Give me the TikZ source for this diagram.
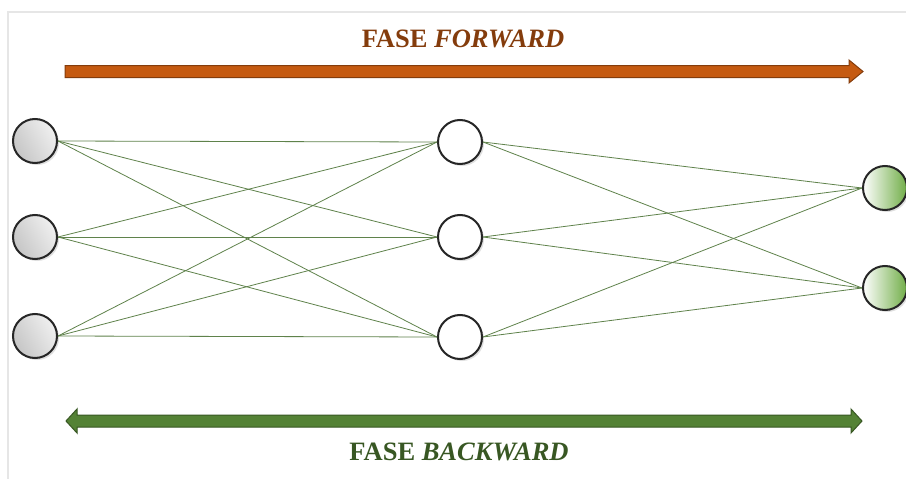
\documentclass[tikz,border=0pt]{standalone}
\usepackage{fontspec}
\setmainfont{Liberation Serif}
\usetikzlibrary{shadows,arrows.meta}
\definecolor{fwdtext}{RGB}{132,60,12}
\definecolor{fwdfill}{RGB}{197,90,17}
\definecolor{bwdtext}{RGB}{56,87,35}
\definecolor{bwdfill}{RGB}{84,130,53}
\definecolor{edgecol}{RGB}{95,130,75}
\definecolor{nodeline}{RGB}{38,38,38}
\definecolor{framecol}{RGB}{230,230,230}
\definecolor{outgreen}{RGB}{112,173,71}
\begin{document}
\begin{tikzpicture}[x=1pt,y=-1pt,
  neuron/.style={circle,minimum size=44pt,inner sep=0pt,line width=2pt,draw=nodeline,
    drop shadow={shadow xshift=2pt,shadow yshift=-2pt,opacity=0.25}},
  inneuron/.style={neuron,left color=gray!45,right color=gray!12,shading angle=120},
  hidneuron/.style={neuron,fill=white},
  outneuron/.style={neuron,left color=white,right color=outgreen},
  conn/.style={draw=edgecol,line width=0.8pt},
  label/.style={font=\fontsize{26.5}{30}\selectfont\bfseries,anchor=center}
]
\useasboundingbox (0,0) rectangle (906,479);
\fill[white] (0,0) rectangle (906,479);
\draw[framecol,line width=1.5pt] (8,479) -- (8,12) -- (906,12);

% title texts
\node[label,text=fwdtext] (ft) at (463,39) {FASE \textit{FORWARD}};
\node[label,text=bwdtext] (bt) at (459,452) {FASE \textit{BACKWARD}};

% arrows
\draw[line width=1pt,draw=fwdtext,fill=fwdfill]
  (65,65.5) -- (849,65.5) -- (849,60) -- (863,71.5) -- (849,83) -- (849,77.5) -- (65,77.5) -- cycle;
\draw[line width=1pt,draw=bwdtext,fill=bwdfill]
  (66,421) -- (77,409) -- (77,415) -- (851,415) -- (851,409) -- (862,421) -- (851,433) -- (851,427) -- (77,427) -- (77,433) -- cycle;

% nodes
\node[inneuron] (i1) at (35,141) {};
\node[inneuron] (i2) at (35,237) {};
\node[inneuron] (i3) at (35,336) {};
\node[hidneuron] (h1) at (460,142) {};
\node[hidneuron] (h2) at (460,237) {};
\node[hidneuron] (h3) at (460,337) {};
\node[outneuron] (o1) at (885,188) {};
\node[outneuron] (o2) at (885,288) {};

% connections
\foreach \i in {1,2,3}{
  \foreach \h in {1,2,3}{
    \draw[conn] (i\i.east) -- (h\h.west);
  }
}
\foreach \h in {1,2,3}{
  \foreach \o in {1,2}{
    \draw[conn] (h\h.east) -- (o\o.west);
  }
}
\end{tikzpicture}
\end{document}
